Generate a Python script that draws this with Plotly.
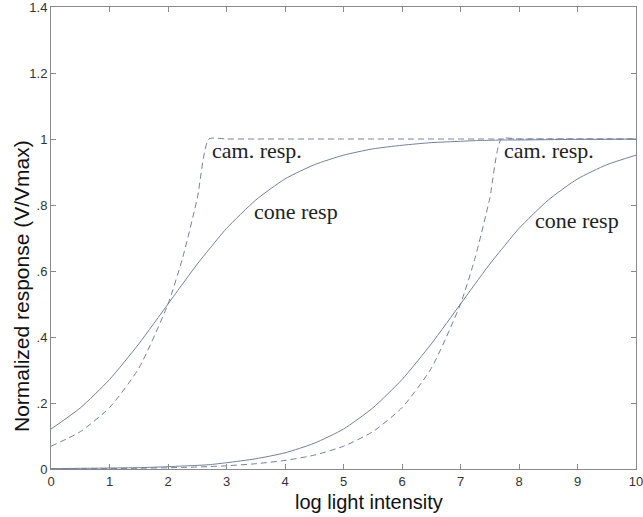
import plotly.graph_objects as go

# x grid (log light intensity)
x_vals = [0, 0.5, 1, 1.5, 2, 2.25, 2.5, 2.7, 3, 3.5, 4, 4.5, 5, 5.5, 6, 6.5, 7, 7.25, 7.5, 7.7, 8, 8.5, 9, 9.5, 10]

# cone response, first curve (half-max at 2)
cone1 = [0.121, 0.185, 0.271, 0.379, 0.500, 0.561, 0.621, 0.665, 0.729, 0.815, 0.879, 0.922, 0.951, 0.970, 0.981, 0.989, 0.993, 0.995, 0.996, 0.997, 0.997, 0.998, 0.999, 0.999, 1.000]
# camera response, first curve (saturates at ~2.7)
cam1 = [0.069, 0.113, 0.186, 0.305, 0.500, 0.640, 0.820, 1.000, 1.000, 1.000, 1.000, 1.000, 1.000, 1.000, 1.000, 1.000, 1.000, 1.000, 1.000, 1.000, 1.000, 1.000, 1.000, 1.000, 1.000]
# cone response, second curve (half-max at 7)
cone2 = [0.001, 0.002, 0.003, 0.004, 0.007, 0.009, 0.011, 0.013, 0.019, 0.031, 0.049, 0.078, 0.121, 0.185, 0.271, 0.379, 0.500, 0.561, 0.621, 0.665, 0.729, 0.815, 0.879, 0.922, 0.951]
# camera response, second curve (saturates at ~7.7)
cam2 = [0.0005, 0.0009, 0.0014, 0.0023, 0.0037, 0.0047, 0.006, 0.0073, 0.0098, 0.016, 0.026, 0.042, 0.069, 0.113, 0.186, 0.305, 0.500, 0.640, 0.820, 1.000, 1.000, 1.000, 1.000, 1.000, 1.000]

x_ticks = [0, 1, 2, 3, 4, 5, 6, 7, 8, 9, 10]
y_ticks = [0, 0.2, 0.4, 0.6, 0.8, 1.0, 1.2, 1.4]
y_tick_text = ["0", ".2", ".4", ".6", ".8", "1", "1.2", "1.4"]

labels = [
    (2.72, 0.965, "cam. resp."),
    (3.44, 0.781, "cone resp"),
    (7.71, 0.965, "cam. resp."),
    (8.24, 0.752, "cone resp"),
]
x_title = "log light intensity"
y_title = "Normalized response (V/Vmax)"

line_col = "#72819c"
fig = go.Figure()
for yv, dash in [(cone1, "solid"), (cam1, "6px,4px"), (cone2, "solid"), (cam2, "6px,4px")]:
    fig.add_trace(go.Scatter(x=x_vals, y=yv, mode="lines",
                             line=dict(color=line_col, width=1, dash=dash, shape="spline", smoothing=0.6),
                             showlegend=False, hoverinfo="skip"))

for lx, ly, txt in labels:
    fig.add_annotation(x=lx, y=ly, text=txt, showarrow=False, xanchor="left", yanchor="middle",
                       font=dict(family="Liberation Serif", size=22, color="#222"))

fig.add_annotation(xref="paper", yref="paper", x=0.5436, y=-0.0714, text=x_title, showarrow=False,
                   xanchor="center", yanchor="middle",
                   font=dict(family="Liberation Sans", size=20, color="#111"))
fig.add_annotation(xref="paper", yref="paper", x=-0.0513, y=0.396, text=y_title, showarrow=False,
                   xanchor="center", yanchor="middle", textangle=-90,
                   font=dict(family="Liberation Sans", size=21, color="#111"))

axis_common = dict(showline=True, linecolor="#8a8a8a", linewidth=1, mirror="ticks",
                   ticks="inside", ticklen=5, tickcolor="#8a8a8a", showgrid=False, zeroline=False,
                   automargin=False, ticklabeloverflow="allow",
                   tickfont=dict(family="Liberation Sans", size=13, color="#333"))
fig.update_xaxes(range=[0, 10], tickvals=x_ticks, **axis_common)
fig.update_yaxes(range=[0, 1.4], tickvals=y_ticks, ticktext=y_tick_text, **axis_common)
fig.update_layout(width=643, height=517, margin=dict(l=51, r=7, t=7, b=48),
                  plot_bgcolor="white", paper_bgcolor="white")
fig.write_html("out.html")
